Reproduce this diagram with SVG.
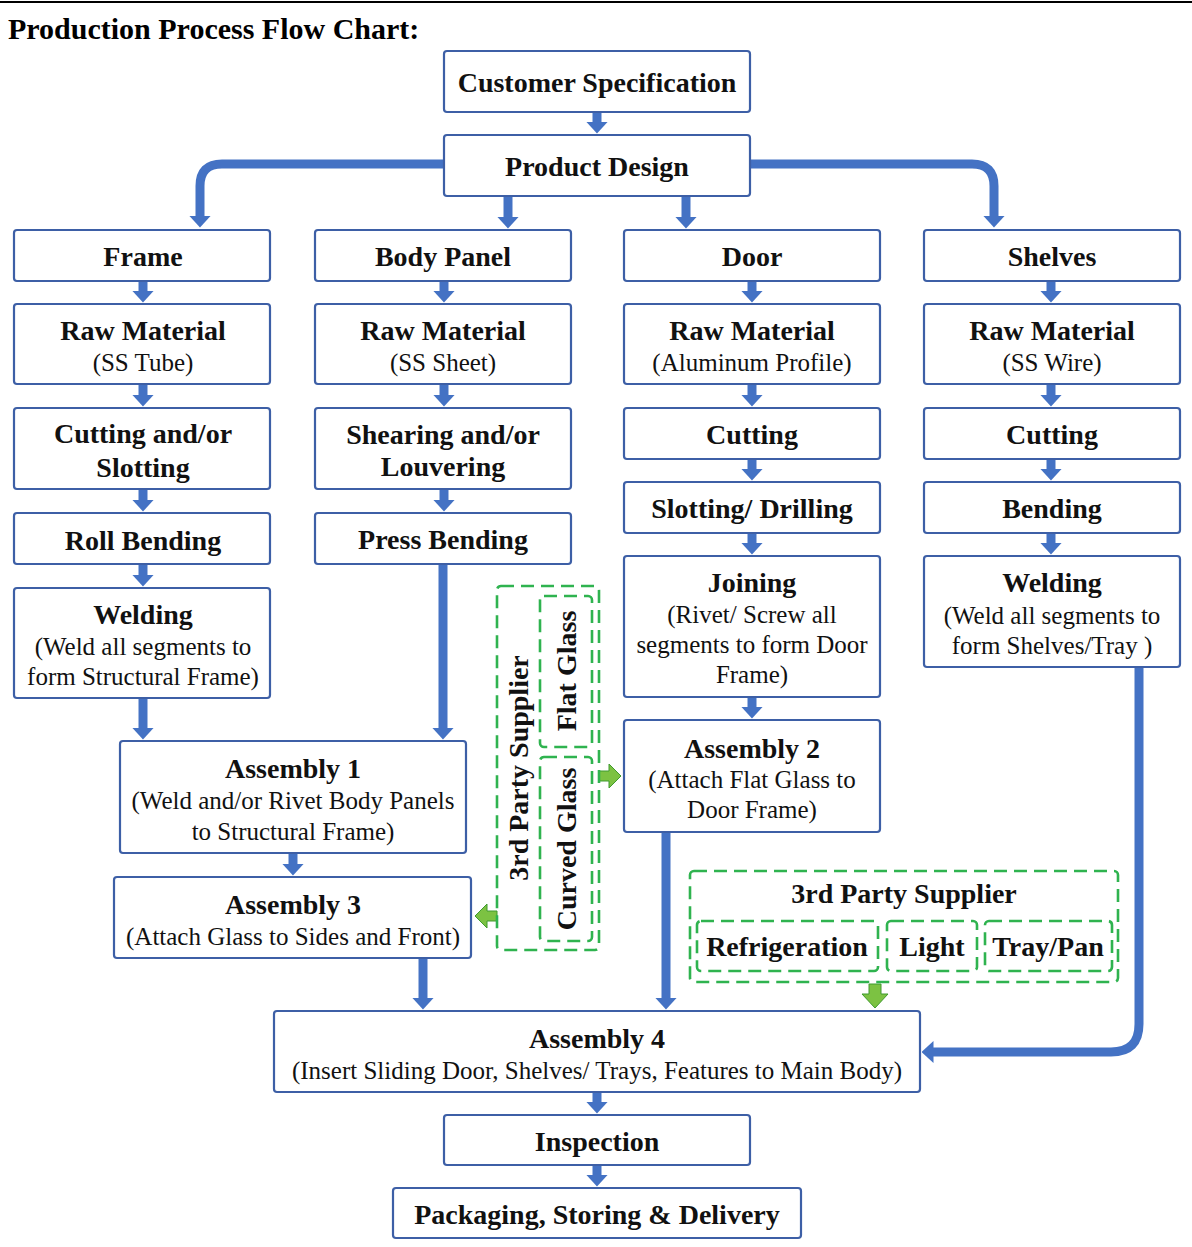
<svg xmlns="http://www.w3.org/2000/svg" width="1192" height="1247" viewBox="0 0 1192 1247">
<style>
.box{fill:#fff;stroke:#3d5fa6;stroke-width:2.2}
.gd{fill:none;stroke:#2fb34f;stroke-width:2.6;stroke-dasharray:13 7}
.t{font-family:"Liberation Serif","Times New Roman",serif;font-weight:bold;font-size:28px;fill:#111;text-anchor:middle}
.s{font-family:"Liberation Serif","Times New Roman",serif;font-size:25px;fill:#111;text-anchor:middle}
.ar{fill:none;stroke:#4472c4;stroke-width:9;marker-end:url(#ah)}
.ga{fill:#7cc242;stroke:#3f9a2e;stroke-width:1}
</style>
<defs>
<marker id="ah" markerUnits="userSpaceOnUse" viewBox="0 0 12 22" refX="0.5" refY="11" markerWidth="12" markerHeight="22" orient="auto">
<path d="M0,0 L12,11 L0,22 Z" fill="#4472c4"/>
</marker>
</defs>
<rect width="1192" height="1247" fill="#fff"/>
<line x1="0" y1="2" x2="1192" y2="2" stroke="#000" stroke-width="2"/>
<text x="8" y="39" style="font-family:'Liberation Serif','Times New Roman',serif;font-weight:bold;font-size:30px" fill="#000">Production Process Flow Chart:</text>

<g id="connectors">
<line class="ar" x1="597" y1="112" x2="597" y2="122"/>
<path class="ar" d="M444,164 H222 Q200,164 200,186 V216"/>
<line class="ar" x1="508" y1="196" x2="508" y2="217"/>
<line class="ar" x1="686" y1="196" x2="686" y2="217"/>
<path class="ar" d="M750,164 H972 Q994,164 994,186 V216"/>
<line class="ar" x1="143" y1="281" x2="143" y2="291"/>
<line class="ar" x1="143" y1="384" x2="143" y2="395"/>
<line class="ar" x1="143" y1="489" x2="143" y2="500"/>
<line class="ar" x1="143" y1="564" x2="143" y2="575"/>
<line class="ar" x1="143" y1="698" x2="143" y2="728"/>
<line class="ar" x1="444" y1="281" x2="444" y2="291"/>
<line class="ar" x1="444" y1="384" x2="444" y2="395"/>
<line class="ar" x1="444" y1="489" x2="444" y2="500"/>
<line class="ar" x1="443" y1="564" x2="443" y2="728"/>
<line class="ar" x1="752" y1="281" x2="752" y2="291"/>
<line class="ar" x1="752" y1="384" x2="752" y2="395"/>
<line class="ar" x1="752" y1="459" x2="752" y2="469"/>
<line class="ar" x1="752" y1="533" x2="752" y2="543"/>
<line class="ar" x1="752" y1="697" x2="752" y2="707"/>
<line class="ar" x1="1051" y1="281" x2="1051" y2="291"/>
<line class="ar" x1="1051" y1="384" x2="1051" y2="395"/>
<line class="ar" x1="1051" y1="459" x2="1051" y2="469"/>
<line class="ar" x1="1051" y1="533" x2="1051" y2="543"/>
<line class="ar" x1="293" y1="853" x2="293" y2="864"/>
<line class="ar" x1="423" y1="958" x2="423" y2="998"/>
<line class="ar" x1="666" y1="832" x2="666" y2="998"/>
<path class="ar" d="M1139,667 V1024 Q1139,1052 1111,1052 H933"/>
<line class="ar" x1="597" y1="1092" x2="597" y2="1102"/>
<line class="ar" x1="597" y1="1165" x2="597" y2="1175"/>
<path class="ga" d="M599,771 H609 V764 L621,776 L609,788 V781 H599 Z"/>
<path class="ga" d="M497,911 H487 V904 L475,916 L487,928 V921 H497 Z"/>
<path class="ga" d="M869,984 V994 H862 L875,1008 L888,994 H881 V984 Z"/>
</g>

<g id="customer-spec"><rect class="box" x="444" y="51" width="306" height="61" rx="3"/><text class="t" x="597" y="92">Customer Specification</text></g>
<g id="product-design"><rect class="box" x="444" y="135" width="306" height="61" rx="3"/><text class="t" x="597" y="176">Product Design</text></g>

<g id="frame"><rect class="box" x="14" y="230" width="256" height="51" rx="3"/><text class="t" x="143" y="266">Frame</text></g>
<g id="body-panel"><rect class="box" x="315" y="230" width="256" height="51" rx="3"/><text class="t" x="443" y="266">Body Panel</text></g>
<g id="door"><rect class="box" x="624" y="230" width="256" height="51" rx="3"/><text class="t" x="752" y="266">Door</text></g>
<g id="shelves"><rect class="box" x="924" y="230" width="256" height="51" rx="3"/><text class="t" x="1052" y="266">Shelves</text></g>

<g id="raw-frame"><rect class="box" x="14" y="304" width="256" height="80" rx="3"/><text class="t" x="143" y="340">Raw Material</text><text class="s" x="143" y="371">(SS Tube)</text></g>
<g id="raw-body"><rect class="box" x="315" y="304" width="256" height="80" rx="3"/><text class="t" x="443" y="340">Raw Material</text><text class="s" x="443" y="371">(SS Sheet)</text></g>
<g id="raw-door"><rect class="box" x="624" y="304" width="256" height="80" rx="3"/><text class="t" x="752" y="340">Raw Material</text><text class="s" x="752" y="371">(Aluminum Profile)</text></g>
<g id="raw-shelves"><rect class="box" x="924" y="304" width="256" height="80" rx="3"/><text class="t" x="1052" y="340">Raw Material</text><text class="s" x="1052" y="371">(SS Wire)</text></g>

<g id="cutting-slotting"><rect class="box" x="14" y="408" width="256" height="81" rx="3"/><text class="t" x="143" y="443">Cutting and/or</text><text class="t" x="143" y="477">Slotting</text></g>
<g id="roll-bending"><rect class="box" x="14" y="513" width="256" height="51" rx="3"/><text class="t" x="143" y="550">Roll Bending</text></g>
<g id="welding-frame"><rect class="box" x="14" y="588" width="256" height="110" rx="3"/><text class="t" x="143" y="624">Welding</text><text class="s" x="143" y="655">(Weld all segments to</text><text class="s" x="143" y="685">form Structural Frame)</text></g>

<g id="shearing"><rect class="box" x="315" y="408" width="256" height="81" rx="3"/><text class="t" x="443" y="444">Shearing and/or</text><text class="t" x="443" y="476">Louvering</text></g>
<g id="press-bending"><rect class="box" x="315" y="513" width="256" height="51" rx="3"/><text class="t" x="443" y="549">Press Bending</text></g>

<g id="cutting-door"><rect class="box" x="624" y="408" width="256" height="51" rx="3"/><text class="t" x="752" y="444">Cutting</text></g>
<g id="slotting-drilling"><rect class="box" x="624" y="482" width="256" height="51" rx="3"/><text class="t" x="752" y="518">Slotting/ Drilling</text></g>
<g id="joining"><rect class="box" x="624" y="556" width="256" height="141" rx="3"/><text class="t" x="752" y="592">Joining</text><text class="s" x="752" y="623">(Rivet/ Screw all</text><text class="s" x="752" y="653">segments to form Door</text><text class="s" x="752" y="683">Frame)</text></g>
<g id="assembly-2"><rect class="box" x="624" y="720" width="256" height="112" rx="3"/><text class="t" x="752" y="758">Assembly 2</text><text class="s" x="752" y="788">(Attach Flat Glass to</text><text class="s" x="752" y="818">Door Frame)</text></g>

<g id="cutting-shelves"><rect class="box" x="924" y="408" width="256" height="51" rx="3"/><text class="t" x="1052" y="444">Cutting</text></g>
<g id="bending"><rect class="box" x="924" y="482" width="256" height="51" rx="3"/><text class="t" x="1052" y="518">Bending</text></g>
<g id="welding-shelves"><rect class="box" x="924" y="556" width="256" height="111" rx="3"/><text class="t" x="1052" y="592">Welding</text><text class="s" x="1052" y="624">(Weld all segments to</text><text class="s" x="1052" y="654">form Shelves/Tray )</text></g>

<g id="assembly-1"><rect class="box" x="120" y="741" width="346" height="112" rx="3"/><text class="t" x="293" y="778">Assembly 1</text><text class="s" x="293" y="809">(Weld and/or Rivet Body Panels</text><text class="s" x="293" y="840">to Structural Frame)</text></g>
<g id="assembly-3"><rect class="box" x="114" y="877" width="357" height="81" rx="3"/><text class="t" x="293" y="914">Assembly 3</text><text class="s" x="293" y="945">(Attach Glass to Sides and Front)</text></g>

<g id="glass-supplier">
<rect class="gd" x="497" y="586" width="102" height="364" rx="4"/>
<text class="t" transform="translate(528,768) rotate(-90)">3rd Party Supplier</text>
<rect class="gd" x="540" y="596" width="52" height="151" rx="4"/>
<text class="t" transform="translate(576,671) rotate(-90)">Flat Glass</text>
<rect class="gd" x="540" y="757" width="52" height="184" rx="4"/>
<text class="t" transform="translate(576,849) rotate(-90)">Curved Glass</text>
</g>

<g id="feature-supplier">
<rect class="gd" x="690" y="871" width="428" height="111" rx="4"/>
<text class="t" x="904" y="903">3rd Party Supplier</text>
<rect class="gd" x="697" y="921" width="181" height="50" rx="4"/>
<text class="t" x="787" y="956">Refrigeration</text>
<rect class="gd" x="887" y="921" width="90" height="50" rx="4"/>
<text class="t" x="932" y="956">Light</text>
<rect class="gd" x="985" y="921" width="127" height="50" rx="4"/>
<text class="t" x="1048" y="956">Tray/Pan</text>
</g>

<g id="assembly-4"><rect class="box" x="274" y="1011" width="646" height="81" rx="3"/><text class="t" x="597" y="1048">Assembly 4</text><text class="s" x="597" y="1079">(Insert Sliding Door, Shelves/ Trays, Features to Main Body)</text></g>
<g id="inspection"><rect class="box" x="444" y="1115" width="306" height="50" rx="3"/><text class="t" x="597" y="1151">Inspection</text></g>
<g id="packaging"><rect class="box" x="393" y="1188" width="408" height="50" rx="3"/><text class="t" x="597" y="1224">Packaging, Storing &amp; Delivery</text></g>
</svg>
